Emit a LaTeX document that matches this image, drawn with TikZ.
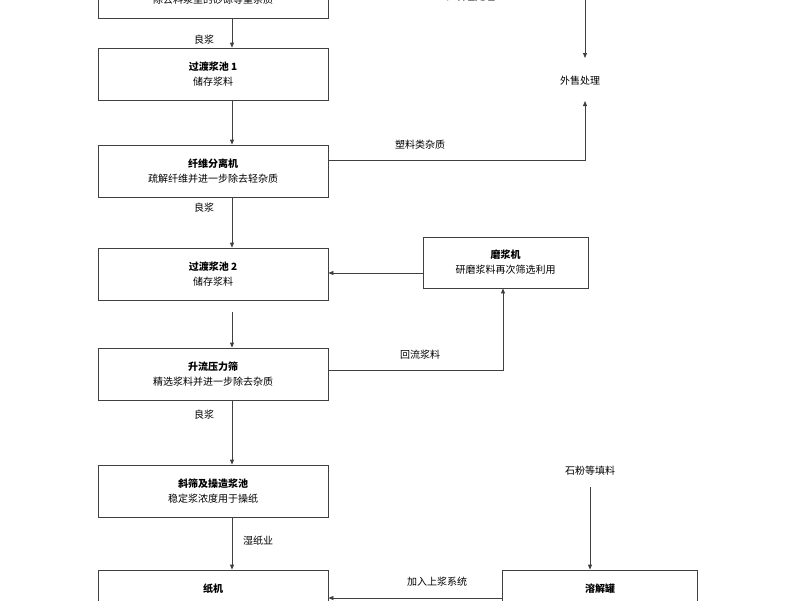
\documentclass[tikz,border=0pt]{standalone}
\usepackage{fontspec}
\setmainfont{Noto Sans CJK SC}
\usetikzlibrary{arrows.meta}
\begin{document}
\begin{tikzpicture}[x=1pt,y=-1pt,font=\fontsize{10}{12}\selectfont,
 box/.style={draw=black!75,line width=0.8pt,minimum width=230pt,align=center,inner sep=0pt},
 lbl/.style={inner sep=1pt},
 arr/.style={draw=black!75,line width=0.8pt,-{Triangle[length=5pt,width=4pt]}}]
\useasboundingbox (0,0) rectangle (800,600);
\clip (0,0) rectangle (800,600);
\node[box,minimum height=52pt] (b0) at (213,-8) {\textbf{除砂器}\\[3pt]除去料浆里的砂砾等重杂质};
\node[box,minimum height=52pt] (b1) at (213,74) {\textbf{过渡浆池 1}\\[3pt]储存浆料};
\node[box,minimum height=52pt] (b2) at (213,171) {\textbf{纤维分离机}\\[3pt]疏解纤维并进一步除去轻杂质};
\node[box,minimum height=52pt] (b3) at (213,274) {\textbf{过渡浆池 2}\\[3pt]储存浆料};
\node[box,minimum height=52pt] (b4) at (213,374) {\textbf{升流压力筛}\\[3pt]精选浆料并进一步除去杂质};
\node[box,minimum height=52pt] (b5) at (213,491) {\textbf{斜筛及操造浆池}\\[3pt]稳定浆浓度用于操纸};
\node[box,minimum height=52pt] (b6) at (213,596) {\textbf{纸机}\\[3pt]\phantom{纸机}};
\node[box,minimum width=165pt,minimum height=51pt] (m) at (505.5,262.5) {\textbf{磨浆机}\\[3pt]研磨浆料再次筛选利用};
\node[box,minimum width=195pt,minimum height=52pt] (r) at (600,596) {\textbf{溶解罐}\\[3pt]\phantom{x}};
\node[lbl] (ws) at (580,81) {外售处理};
\node[lbl] (tc) at (470,-3) {、填埋处理};
\node[lbl] (sf) at (590,471) {石粉等填料};
\coordinate (t0) at (585,0);
\draw[arr] (t0) -- (585,58);
\draw[arr] (b0.south-|232,0) -- (b1.north-|232,0);
\node[lbl] at (204,40) {良浆};
\draw[arr] (b1.south-|232,0) -- (b2.north-|232,0);
\draw[arr] (b2.east|-0,160) -- (585,160) -- (585,101);
\node[lbl] at (420,145) {塑料类杂质};
\draw[arr] (b2.south-|232,0) -- (b3.north-|232,0);
\node[lbl] at (204,208) {良浆};
\draw[arr] (m.west|-0,273) -- (b3.east|-0,273);
\coordinate (c3) at (232,312);
\draw[arr] (c3) -- (b4.north-|232,0);
\draw[arr] (b4.east|-0,370) -- (503,370) -- (m.south-|503,0);
\node[lbl] at (420,355) {回流浆料};
\draw[arr] (b4.south-|232,0) -- (b5.north-|232,0);
\node[lbl] at (204,415) {良浆};
\draw[arr] (b5.south-|232,0) -- (b6.north-|232,0);
\node[lbl] at (258,541) {湿纸业};
\draw[arr] (sf) ++(0,16) -- (r.north-|590,0);
\draw[arr] (r.west|-0,598) -- (b6.east|-0,598);
\node[lbl] at (437,582) {加入上浆系统};
\end{tikzpicture}
\end{document}
